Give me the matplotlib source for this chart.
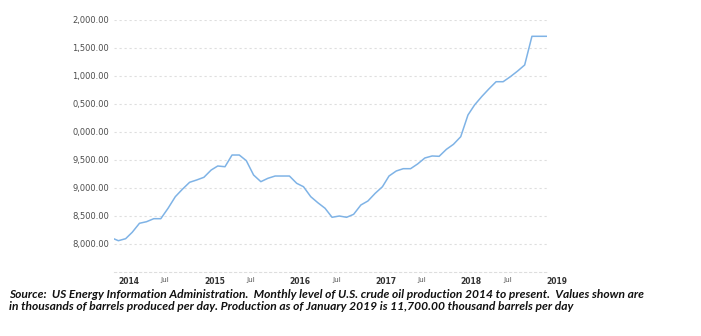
import matplotlib
matplotlib.use("Agg")
import matplotlib.pyplot as plt
import pandas as pd

# monthly U.S. crude oil production, thousand barrels per day (Dec 2013 - Jan 2019)
months = pd.date_range("2013-12-01", "2019-01-01", freq="MS")
production = [
    8104,
    8050, 8086, 8200, 8361, 8389, 8443, 8443, 8629, 8836, 8968, 9093, 9134,
    9182, 9312, 9384, 9371, 9580, 9580, 9479, 9223, 9104, 9164, 9205, 9205,
    9205, 9075, 9014, 8836, 8729, 8629, 8468, 8491, 8468, 8521, 8688, 8759,
    8896, 9014, 9205, 9295, 9336, 9336, 9420, 9527, 9563, 9557, 9682, 9771,
    9907, 10295, 10473, 10625, 10759, 10889, 10889, 10979, 11080, 11188, 11700, 11700,
    11700,
]

ytick_vals = [8000, 8500, 9000, 9500, 10000, 10500, 11000, 11500, 12000]
ytick_text = ["8,000.00", "8,500.00", "9,000.00", "9,500.00", "0,000.00",
              "0,500.00", "1,000.00", "1,500.00", "2,000.00"]

xtick_dates = pd.date_range("2014-01-01", "2019-01-01", freq="6MS")
xtick_text = ["2014", "Jul", "2015", "Jul", "2016", "Jul", "2017", "Jul",
              "2018", "Jul", "2019"]

caption = ("Source:  US Energy Information Administration.  Monthly level of U.S. crude oil "
           "production 2014 to present.  Values shown are\n"
           "in thousands of barrels produced per day. Production as of January 2019 is "
           "11,700.00 thousand barrels per day")

fig = plt.figure(figsize=(7.01, 3.36), dpi=100)
ax = fig.add_axes([114.4 / 701, 64.5 / 336, 432.3 / 701, 252 / 336])

ax.plot(months, production, color="#7fb3e6", linewidth=1.1)

ax.set_xlim(pd.Timestamp("2013-12-15"), pd.Timestamp("2019-01-03"))
ax.set_ylim(7500, 12000)

ax.set_yticks(ytick_vals)
ax.set_yticklabels(ytick_text)
ax.set_xticks(xtick_dates)
ax.set_xticklabels(xtick_text)

for lbl in ax.get_xticklabels():
    lbl.set_ha("left")
    if lbl.get_text() == "Jul":
        lbl.set_fontsize(5.2)
        lbl.set_color("#555555")
    else:
        lbl.set_fontsize(5.5)
        lbl.set_fontweight("bold")
        lbl.set_color("#333333")

ax.tick_params(axis="x", length=0, pad=4)
ax.tick_params(axis="y", length=0, pad=4, labelsize=6, labelcolor="#4d4d4d")

ax.grid(axis="y", color="#dedede", linewidth=0.8, linestyle=(0, (2, 2.5)))
ax.grid(axis="x", visible=False)
for side in ["top", "right", "left"]:
    ax.spines[side].set_visible(False)
ax.spines["bottom"].set_color("#dedede")
ax.spines["bottom"].set_linewidth(0.8)
ax.spines["bottom"].set_linestyle((0, (2, 2.5)))

fig.text(9 / 701, 1 - 288.5 / 336, caption, ha="left", va="top",
         fontsize=8.65, family="Lato", style="italic", weight="bold",
         color="#111111", linespacing=1.2)

fig.savefig("out.png", dpi=100)
